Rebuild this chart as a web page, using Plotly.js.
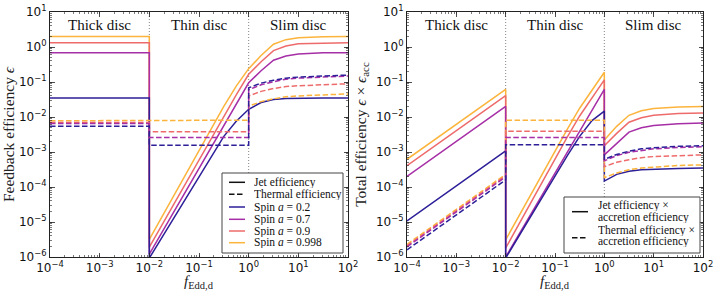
<!DOCTYPE html>
<html><head><meta charset="utf-8">
<script src="https://cdn.plot.ly/plotly-3.0.1.min.js"></script>
<style>html,body{margin:0;padding:0;background:#fff}#chart{width:718px;height:291px}</style>
</head><body><div id="chart"></div>
<script>
// ---------- data ----------
const spinLabels = ['0.2', '0.7', '0.9', '0.998'];
const fThick = [1e-4, 1e-2];
const fThinEnds = [1e-2, 1];
const fThin = [0.01, 0.0316, 0.1, 0.178, 0.316, 0.562, 1];
const fSlim = [1, 1.78, 3.16, 5.62, 10, 31.6, 100];
const regimeEdges = [0.01, 1];
const yLimits = [1e-6, 10];
const regimeNames = ['Thick disc', 'Thin disc', 'Slim disc'];
const regimeCentres = [1e-3, 1e-1, 10];

// Left panel: feedback efficiency
const jetThickL = [0.035, 0.69, 1.33, 2.0];
const jetThinL = [
  [9.3e-7, 1.35e-5, 1.95e-4, 7.6e-4, 2.8e-3, 7.6e-3, 0.0166],
  [1.2e-6, 2.0e-5, 3.3e-4, 1.38e-3, 5.6e-3, 0.0234, 0.095],
  [1.9e-6, 3.4e-5, 6.0e-4, 2.5e-3, 0.0105, 0.043, 0.166],
  [3.2e-6, 6.0e-5, 1.12e-3, 4.7e-3, 0.020, 0.076, 0.24]];
const jetSlimL = [
  [0.0166, 0.026, 0.0316, 0.0339, 0.0347, 0.035, 0.035],
  [0.095, 0.21, 0.42, 0.55, 0.63, 0.68, 0.69],
  [0.166, 0.38, 0.79, 1.07, 1.23, 1.31, 1.33],
  [0.24, 0.57, 1.2, 1.62, 1.85, 1.97, 2.0]];
const thermThickL = [0.0054, 0.0065, 0.0070, 0.0078];
const thermThinL = [0.00157, 0.0026, 0.0038, 0.0081];
const thermSlimL = [
  [0.068, 0.093, 0.112, 0.129, 0.138, 0.151, 0.158],
  [0.060, 0.083, 0.102, 0.120, 0.129, 0.141, 0.148],
  [0.040, 0.054, 0.065, 0.074, 0.078, 0.085, 0.089],
  [0.0204, 0.0275, 0.033, 0.038, 0.040, 0.0437, 0.0457]];

// Right panel: total efficiency (x accretion efficiency)
const jetThickR = [[1.07e-5, 1.07e-3], [2.0e-4, 0.020], [4.1e-4, 0.041], [6.2e-4, 0.062]];
const jetThinR = [
  [9.3e-7, 1.4e-5, 2.1e-4, 7.9e-4, 2.8e-3, 7.9e-3, 0.0148],
  [1.0e-6, 1.6e-5, 2.6e-4, 1.05e-3, 4.2e-3, 0.0162, 0.062],
  [1.8e-6, 3.4e-5, 6.5e-4, 2.7e-3, 0.0107, 0.036, 0.115],
  [3.1e-6, 5.8e-5, 1.07e-3, 4.5e-3, 0.0178, 0.059, 0.19]];
const jetSlimR = [
  [1.48e-4, 2.3e-4, 2.8e-4, 3.1e-4, 3.24e-4, 3.4e-4, 3.47e-4],
  [8.3e-4, 1.8e-3, 3.7e-3, 4.9e-3, 5.75e-3, 6.45e-3, 6.7e-3],
  [1.5e-3, 3.4e-3, 7.1e-3, 9.5e-3, 0.0112, 0.0126, 0.0130],
  [2.2e-3, 5.4e-3, 0.0112, 0.0151, 0.0174, 0.0193, 0.020]];
const thermThickR = [[1.6e-6, 1.6e-4], [1.95e-6, 1.95e-4], [2.1e-6, 2.1e-4], [2.3e-6, 2.3e-4]];
const thermThinR = [0.0016, 0.0026, 0.0039, 0.0081];
const thermSlimR = [
  [6.2e-4, 8.5e-4, 1.05e-3, 1.23e-3, 1.32e-3, 1.45e-3, 1.51e-3],
  [5.6e-4, 7.9e-4, 9.8e-4, 1.12e-3, 1.23e-3, 1.35e-3, 1.41e-3],
  [3.8e-4, 5.1e-4, 6.0e-4, 6.9e-4, 7.4e-4, 7.9e-4, 8.3e-4],
  [1.86e-4, 2.5e-4, 3.1e-4, 3.5e-4, 3.7e-4, 4.1e-4, 4.3e-4]];

// tick labels
const xTickVals = [1e-4, 1e-3, 1e-2, 1e-1, 1, 10, 100];
const xTickText = ['10<sup>−4</sup>', '10<sup>−3</sup>', '10<sup>−2</sup>', '10<sup>−1</sup>', '10<sup>0</sup>', '10<sup>1</sup>', '10<sup>2</sup>'];
const yTickVals = [1e-6, 1e-5, 1e-4, 1e-3, 1e-2, 1e-1, 1, 10];
const yTickText = ['10<sup>−6</sup>', '10<sup>−5</sup>', '10<sup>−4</sup>', '10<sup>−3</sup>', '10<sup>−2</sup>', '10<sup>−1</sup>', '10<sup>0</sup>', '10<sup>1</sup>'];

// ---------- styles ----------
const spinColors = ['#2c1f98', '#a62ea6', '#ee6b6b', '#fcb43c'];
const DASH = '5.5px,2.5px';
const LW = 1.5;
const SERIF = 'Liberation Serif, DejaVu Serif, serif';
const LEGEND_FONT = 11.5;

// ---------- traces ----------
const traces = [];
function add(x, y, xa, ya, color, dash, width) {
  traces.push({type: 'scatter', mode: 'lines', x: x, y: y, xaxis: xa, yaxis: ya,
    line: {color: color, width: width || LW, dash: dash || 'solid'}, showlegend: false, hoverinfo: 'skip'});
}
// regime boundaries (dotted)
['x', 'x2'].forEach((xa, k) => {
  regimeEdges.forEach(e => add([e, e], yLimits, xa, k ? 'y2' : 'y', '#666', '1px,2px', 0.8));
});
const order = [3, 2, 1, 0];
// jets
order.forEach(i => {
  add(fThick.concat(fThin, fSlim), [jetThickL[i], jetThickL[i]].concat(jetThinL[i], jetSlimL[i]), 'x', 'y', spinColors[i]);
  add(fThick.concat(fThin, fSlim), jetThickR[i].concat(jetThinR[i], jetSlimR[i]), 'x2', 'y2', spinColors[i]);
});
// thermal
order.forEach(i => {
  add(fThick.concat(fThinEnds, fSlim), [thermThickL[i], thermThickL[i], thermThinL[i], thermThinL[i]].concat(thermSlimL[i]), 'x', 'y', spinColors[i], DASH);
  add(fThick.concat(fThinEnds, fSlim), thermThickR[i].concat([thermThinR[i], thermThinR[i]], thermSlimR[i]), 'x2', 'y2', spinColors[i], DASH);
});

// ---------- layout ----------
const W = 718, H = 291, ML = 50, MR = 15, MT = 12, MB = 34;
const PW = W - ML - MR, PH = H - MT - MB;
const px2x = p => (p - ML) / PW;
const px2y = p => (H - MB - p) / PH;

function axis(domain, range, anchor, title, standoff, vals, text) {
  return {
    type: 'log', domain: domain, range: range, anchor: anchor,
    tickmode: 'array', tickvals: vals, ticktext: text,
    ticks: 'inside', ticklen: 4.5, tickwidth: 0.8, tickcolor: '#222',
    showline: true, linecolor: '#222', linewidth: 1, mirror: 'allticks',
    showgrid: false, zeroline: false,
    tickfont: {family: 'DejaVu Sans', size: 12, color: '#111'},
    minor: {tickmode: 'linear', dtick: 'D1', ticks: 'inside', ticklen: 2.2, tickwidth: 0.6, tickcolor: '#222', showgrid: false},
    title: {text: title, font: {family: SERIF, size: 15.5, color: '#222'}, standoff: standoff},
    automargin: false, fixedrange: true
  };
}

const xTitle = '<i>f</i><sub>Edd,d</sub>';
const layout = {
  width: W, height: H, margin: {l: ML, r: MR, t: MT, b: MB},
  paper_bgcolor: '#fff', plot_bgcolor: '#fff', showlegend: false,
  xaxis: axis([0, px2x(348)], [-4, 2], 'y', '', 0, xTickVals, xTickText),
  yaxis: axis([0, 1], [-6, 1], 'x', 'Feedback efficiency <i>ϵ</i>', 5, yTickVals, yTickText),
  xaxis2: axis([px2x(407), 1], [-4, 2], 'y2', '', 0, xTickVals, xTickText),
  yaxis2: axis([0, 1], [-6, 1], 'x2', 'Total efficiency <i>ϵ</i> × <i>ϵ</i><sub>acc</sub>', 5, yTickVals, yTickText),
  annotations: [], shapes: []
};

// x-axis titles (placed below the tick labels)
['x', 'x2'].forEach(xa => layout.annotations.push({
  xref: xa, yref: 'paper', x: -1, y: px2y(272), text: xTitle, showarrow: false,
  xanchor: 'center', yanchor: 'top', borderpad: 0, font: {family: SERIF, size: 15, color: '#222'}
}));

// regime labels
['x', 'x2'].forEach(xa => {
  regimeNames.forEach((n, j) => layout.annotations.push({
    xref: xa, yref: 'paper', x: Math.log10(regimeCentres[j]), y: px2y(25), text: n, showarrow: false,
    xanchor: 'center', yanchor: 'middle', font: {family: SERIF, size: 15, color: '#111'}
  }));
});

// custom legends (drawn boxes, samples and real text)
function box(x0, y0, x1, y1) {
  layout.shapes.push({type: 'rect', xref: 'paper', yref: 'paper', x0: px2x(x0), x1: px2x(x1), y0: px2y(y1), y1: px2y(y0),
    fillcolor: 'rgba(255,255,255,0.95)', line: {color: '#444', width: 1}, layer: 'above'});
}
function sample(x0, x1, y, color, dash) {
  layout.shapes.push({type: 'line', xref: 'paper', yref: 'paper', x0: px2x(x0), x1: px2x(x1), y0: px2y(y), y1: px2y(y),
    line: {color: color, width: LW, dash: dash || 'solid'}, layer: 'above'});
}
function label(x, y, text) {
  layout.annotations.push({xref: 'paper', yref: 'paper', x: px2x(x), y: px2y(y), text: text, showarrow: false,
    xanchor: 'left', yanchor: 'middle', height: 11, borderpad: 0, valign: 'middle',
    font: {family: SERIF, size: LEGEND_FONT, color: '#111'}});
}
box(222, 173, 343, 253);
const leftRows = [182.3, 194.3, 207, 219.3, 231, 242.7];
sample(229, 245, leftRows[0], '#111'); label(253, leftRows[0], 'Jet efficiency');
sample(229, 245, leftRows[1], '#111', DASH); label(253, leftRows[1], 'Thermal efficiency');
spinLabels.forEach((s, i) => {
  sample(229, 245, leftRows[2 + i], spinColors[i]);
  label(253, leftRows[2 + i], 'Spin <i>a</i> = ' + s);
});
box(564, 197, 700, 253);
sample(572, 588, 211.7, '#111'); label(597, 205.7, 'Jet efficiency ×'); label(597, 217.7, 'accretion efficiency');
sample(572, 588, 237.7, '#111', DASH); label(597, 230, 'Thermal efficiency ×'); label(597, 241.7, 'accretion efficiency');

Plotly.newPlot('chart', traces, layout, {staticPlot: true, displayModeBar: false});
</script></body></html>
